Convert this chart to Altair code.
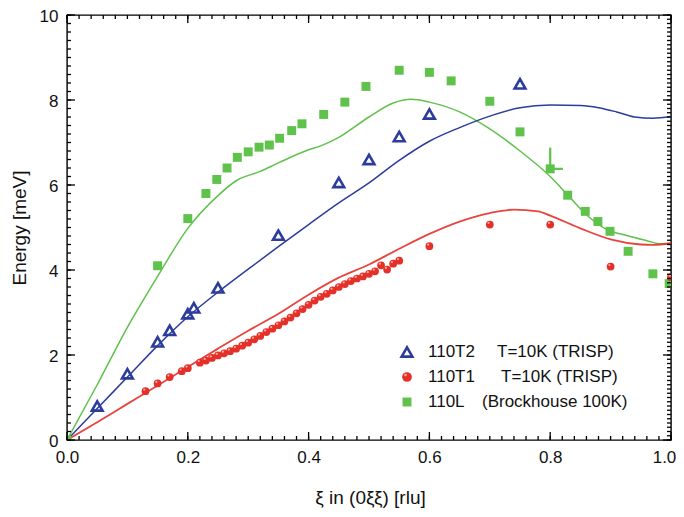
import altair as alt
import pandas as pd
import numpy as np

# ---------------- data ----------------
# 110T2  T=10K (TRISP)  - open blue triangles
t2_x = [0.05, 0.10, 0.15, 0.17, 0.20, 0.21, 0.25, 0.35, 0.45, 0.50, 0.55, 0.60, 0.75]
t2_y = [0.80, 1.56, 2.31, 2.58, 2.97, 3.11, 3.58, 4.82, 6.06, 6.60, 7.14, 7.67, 8.38]

# 110T1  T=10K (TRISP)  - red spheres
t1_x = [0.13, 0.15, 0.17, 0.19, 0.20, 0.22, 0.23, 0.24, 0.25, 0.26, 0.27, 0.28, 0.29,
        0.30, 0.31, 0.32, 0.33, 0.34, 0.35, 0.36, 0.37, 0.38, 0.39, 0.40, 0.41, 0.42,
        0.43, 0.44, 0.45, 0.46, 0.47, 0.48, 0.49, 0.50, 0.51, 0.52, 0.53, 0.54, 0.55,
        0.60, 0.70, 0.80, 0.90, 1.00]
t1_y = [1.15, 1.33, 1.48, 1.62, 1.69, 1.82, 1.87, 1.93, 1.99, 2.04, 2.09, 2.15, 2.22,
        2.29, 2.37, 2.45, 2.54, 2.62, 2.70, 2.79, 2.88, 2.98, 3.08, 3.18, 3.28, 3.37,
        3.44, 3.52, 3.60, 3.67, 3.74, 3.80, 3.85, 3.91, 3.97, 4.11, 4.01, 4.15, 4.22,
        4.56, 5.07, 5.07, 4.08, 3.83]

# 110L  (Brockhouse 100K) - green squares
l_x = [0.0, 0.15, 0.20, 0.23, 0.248, 0.265, 0.282, 0.30, 0.318, 0.335, 0.352, 0.372,
       0.389, 0.425, 0.46, 0.495, 0.55, 0.60, 0.636, 0.70, 0.75, 0.80, 0.829, 0.858,
       0.879, 0.899, 0.929, 0.97, 0.997]
l_y = [0.0, 4.10, 5.21, 5.80, 6.13, 6.40, 6.65, 6.78, 6.89, 6.94, 7.10, 7.28,
       7.44, 7.66, 7.95, 8.32, 8.70, 8.65, 8.45, 7.97, 7.25, 6.38, 5.76, 5.38,
       5.14, 4.91, 4.44, 3.91, 3.68]

# error bar on the 110L point at 0.8
err_x = [0.80]
err_y = [6.38]
err_ytop = [6.88]
err_xright = [0.821]

# calculated curves
blue_cx = [0.0, 0.05, 0.10, 0.15, 0.20, 0.25, 0.30, 0.35, 0.40, 0.45, 0.50, 0.55, 0.60,
           0.65, 0.70, 0.75, 0.80, 0.85, 0.88, 0.91, 0.94, 0.97, 1.00]
blue_cy = [0.0, 0.74, 1.48, 2.22, 2.90, 3.48, 4.02, 4.55, 5.07, 5.58, 6.05, 6.58, 7.03,
           7.35, 7.62, 7.82, 7.88, 7.87, 7.82, 7.72, 7.60, 7.57, 7.61]

red_cx = [0.0, 0.05, 0.10, 0.15, 0.20, 0.25, 0.30, 0.35, 0.40, 0.45, 0.50, 0.55, 0.60,
          0.65, 0.70, 0.74, 0.78, 0.80, 0.85, 0.90, 0.95, 0.97, 1.00]
red_cy = [0.0, 0.42, 0.85, 1.28, 1.72, 2.15, 2.57, 2.97, 3.42, 3.82, 4.13, 4.50, 4.85,
          5.14, 5.34, 5.42, 5.38, 5.28, 4.98, 4.72, 4.60, 4.59, 4.63]

green_cx = [0.0, 0.05, 0.10, 0.15, 0.20, 0.25, 0.28, 0.32, 0.35, 0.40, 0.42, 0.45, 0.50,
            0.54, 0.57, 0.60, 0.65, 0.70, 0.75, 0.80, 0.83, 0.86, 0.89, 0.93, 0.96,
            0.98, 1.00]
green_cy = [0.0, 1.30, 2.65, 3.85, 4.98, 5.75, 6.10, 6.32, 6.52, 6.83, 6.92, 7.12, 7.60,
            7.93, 8.02, 7.95, 7.72, 7.32, 6.80, 6.20, 5.75, 5.30, 4.98, 4.80, 4.69,
            4.62, 4.63]

x_ticks = [0.0, 0.2, 0.4, 0.6, 0.8, 1.0]
y_ticks = [0, 2, 4, 6, 8, 10]

legend_names = ["110T2", "110T1", "110L"]
legend_notes = ["T=10K (TRISP)", "T=10K (TRISP)", "(Brockhouse 100K)"]

# ---------------- styling ----------------
W, H = 604, 425
BLUE = "#2B3C9C"
RED = "#E5302A"
GREEN = "#5EC24B"
FONT = "Liberation Sans"
TXT = "#111111"

xs = alt.Scale(domain=[0, 1], nice=False, zero=False)
ys = alt.Scale(domain=[0, 10], nice=False, zero=False)

x_axis = alt.Axis(values=x_ticks, format=".1f", title="ξ in (0ξξ) [rlu]",
                  titleX=W / 2 + 1, titleY=57, titleBaseline="middle", titleAlign="center",
                  labelPadding=9, labelFlush=False,
                  labelOffset={"condition": {"test": "datum.value >= 1", "value": -7}, "value": 0})
y_axis = alt.Axis(values=y_ticks, format="d", title="Energy [meV]",
                  titleX=-48, titleY=H / 2, titleAngle=-90, titleBaseline="middle",
                  titleAlign="center", labelPadding=9, labelFlush=False, labelOffset=1.5)


def X(field="x"):
    return alt.X(f"{field}:Q", scale=xs, axis=x_axis)


def Y(field="y"):
    return alt.Y(f"{field}:Q", scale=ys, axis=y_axis)


t2 = pd.DataFrame({"x": t2_x, "y": t2_y})
t1 = pd.DataFrame({"x": t1_x, "y": t1_y})
ll = pd.DataFrame({"x": l_x, "y": l_y})
blue = pd.DataFrame({"x": blue_cx, "y": blue_cy})
red = pd.DataFrame({"x": red_cx, "y": red_cy})
green = pd.DataFrame({"x": green_cx, "y": green_cy})
err = pd.DataFrame({"x": err_x, "y": err_y, "y2": err_ytop, "x2": err_xright})

# inward ticks on all four sides (lengths converted to data units)
PXX = W / 1.0
PXY = H / 10.0


def xticks_df(step, ln, at, sign):
    v = [round(float(t), 4) for t in np.arange(0, 1.0001, step)]
    return pd.DataFrame({"x": v, "y": [at] * len(v), "y2": [at + sign * ln / PXY] * len(v),
                         "x2": v})


def yticks_df(step, ln, at, sign):
    v = [round(float(t), 4) for t in np.arange(0, 10.0001, step)]
    return pd.DataFrame({"y": v, "x": [at] * len(v), "x2": [at + sign * ln / PXX] * len(v),
                         "y2": v})


tick_df = pd.concat([
    xticks_df(0.2, 8, 0.0, 1), xticks_df(0.02, 4, 0.0, 1),
    xticks_df(0.2, 8, 10.0, -1), xticks_df(0.02, 4, 10.0, -1),
    yticks_df(2.0, 8, 0.0, 1), yticks_df(0.2, 4, 0.0, 1),
    yticks_df(2.0, 8, 1.0, -1), yticks_df(0.1, 4, 1.0, -1),
], ignore_index=True)

layers = []

# curves
layers.append(alt.Chart(green).mark_line(color=GREEN, strokeWidth=1.5, interpolate="monotone", clip=True)
              .encode(x=X(), y=Y()))
layers.append(alt.Chart(blue).mark_line(color=BLUE, strokeWidth=1.5, interpolate="monotone", clip=True)
              .encode(x=X(), y=Y()))
layers.append(alt.Chart(red).mark_line(color=RED, strokeWidth=1.8, opacity=0.9, interpolate="monotone", clip=True)
              .encode(x=X(), y=Y()))

# error bar
layers.append(alt.Chart(err).mark_rule(color=GREEN, strokeWidth=2.2).encode(x=X(), y=Y(), y2="y2:Q"))
layers.append(alt.Chart(err).mark_rule(color=GREEN, strokeWidth=2.2).encode(x=X(), x2="x2:Q", y=Y()))

# points
layers.append(alt.Chart(ll).mark_square(color=GREEN, size=80, opacity=1, clip=True)
              .encode(x=X(), y=Y()))
layers.append(alt.Chart(t1).mark_circle(color=RED, size=60, opacity=1, clip=True)
              .encode(x=X(), y=Y()))
layers.append(alt.Chart(t1).mark_circle(color="#FFB8A8", size=5, opacity=0.9, xOffset=-1.2, yOffset=-1.6, clip=True)
              .encode(x=X(), y=Y()))
layers.append(alt.Chart(t2).mark_point(shape="triangle-up", filled=False, color=BLUE, size=115,
                                       strokeWidth=2.6, opacity=1)
              .encode(x=X(), y=Y()))

# frame ticks (segments x->x2, y->y2)
layers.append(alt.Chart(tick_df).mark_rule(color="#000000", strokeWidth=1.3, opacity=1)
              .encode(x=X(), x2="x2:Q", y=Y(), y2="y2:Q"))

# legend (drawn by hand inside the plot)
TOP = 15
LX = 407 - 67
LY = [352 - TOP, 377 - TOP, 402 - TOP]
NOTE_X = [497 - 67, 501 - 67, 482 - 67]
one = pd.DataFrame({"a": [0]})
layers.append(alt.Chart(one).mark_point(shape="triangle-up", filled=False, color=BLUE, size=115,
                                        strokeWidth=2.6, opacity=1)
              .encode(x=alt.value(LX), y=alt.value(LY[0])))
layers.append(alt.Chart(one).mark_circle(color=RED, size=95, opacity=1)
              .encode(x=alt.value(LX), y=alt.value(LY[1])))
layers.append(alt.Chart(one).mark_circle(color="#FFB8A8", size=7, opacity=0.9)
              .encode(x=alt.value(LX - 1.5), y=alt.value(LY[1] - 2)))
layers.append(alt.Chart(one).mark_square(color=GREEN, size=80, opacity=1)
              .encode(x=alt.value(LX), y=alt.value(LY[2])))
for i in range(3):
    layers.append(alt.Chart(one).mark_text(text=legend_names[i], align="left", baseline="middle",
                                           font=FONT, fontSize=17, color=TXT)
                  .encode(x=alt.value(428 - 67), y=alt.value(LY[i])))
    layers.append(alt.Chart(one).mark_text(text=legend_notes[i], align="left", baseline="middle",
                                           font=FONT, fontSize=17, color=TXT)
                  .encode(x=alt.value(NOTE_X[i]), y=alt.value(LY[i])))

chart = alt.layer(*layers).properties(
    width=W, height=H,
    autosize=alt.AutoSizeParams(type="none"),
    padding={"left": 59, "top": 7, "right": 5, "bottom": 70},
).configure_view(
    stroke="black", strokeWidth=1.4
).configure_axis(
    domain=False, ticks=False, grid=False,
    labelFont=FONT, labelFontSize=17, labelColor=TXT,
    titleFont=FONT, titleFontSize=19, titleFontWeight="normal", titleColor=TXT,
)

chart.save("out.html", embed_options={"renderer": "svg", "actions": False})
